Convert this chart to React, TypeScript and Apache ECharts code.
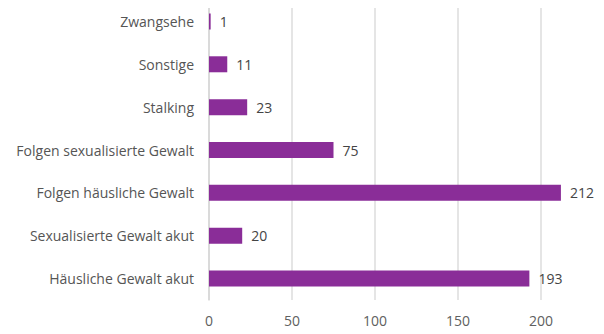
import React, { useEffect, useRef } from "react";
import * as echarts from "echarts";

const categories = [
  "Häusliche Gewalt akut",
  "Sexualisierte Gewalt akut",
  "Folgen häusliche Gewalt",
  "Folgen sexualisierte Gewalt",
  "Stalking",
  "Sonstige",
  "Zwangsehe",
];
const values = [193, 20, 212, 75, 23, 11, 1];
const axisMin = 0;
const axisMax = 250;
const axisStep = 50;

export default function App() {
  const ref = useRef<HTMLDivElement>(null);

  useEffect(() => {
    if (!ref.current) return;
    const chart = echarts.init(ref.current, null, { renderer: "svg" });
    chart.setOption({
      animation: false,
      backgroundColor: "#ffffff",
      grid: { left: 209, right: 16, top: -4, bottom: 34, containLabel: false },
      xAxis: {
        type: "value",
        min: axisMin,
        max: axisMax,
        interval: axisStep,
        axisLine: { show: false },
        axisTick: { show: false },
        splitLine: { show: true, lineStyle: { color: "#dcdcdc", width: 1.5 } },
        axisLabel: {
          color: "#606060",
          fontFamily: "Open Sans",
          fontSize: 14,
          margin: 13,
          showMaxLabel: false,
        },
      },
      yAxis: {
        type: "category",
        data: categories,
        axisLine: { show: true, lineStyle: { color: "#d6d6d6", width: 1.5 } },
        axisTick: { show: false },
        axisLabel: {
          color: "#555555",
          fontFamily: "Open Sans",
          fontSize: 14,
          margin: 15,
        },
      },
      series: [
        {
          type: "bar",
          data: values,
          barWidth: 16,
          itemStyle: { color: "#8a2d98" },
          label: {
            show: true,
            position: "right",
            distance: 9,
            color: "#444444",
            fontFamily: "Open Sans",
            fontSize: 14,
          },
        },
      ],
    });
    return () => chart.dispose();
  }, []);

  return (
    <div style={{ width: 604, height: 334, margin: -8, overflow: "hidden" }}>
      <div ref={ref} style={{ width: 640, height: 334 }} />
    </div>
  );
}
